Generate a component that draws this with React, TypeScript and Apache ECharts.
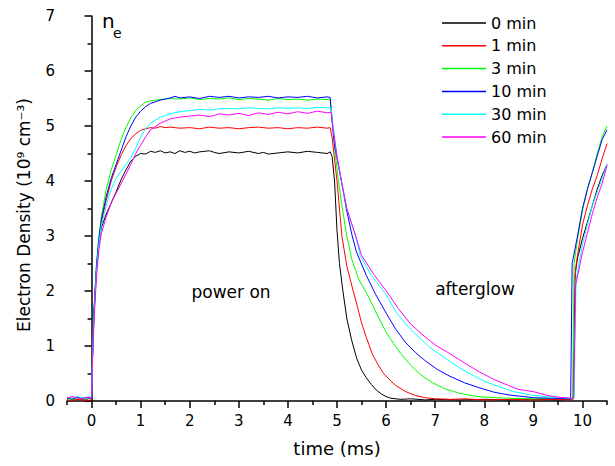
import React, { useEffect, useRef } from "react";
import * as echarts from "echarts";

const FONT = "DejaVu Sans";

const SERIES_NAMES = ["0 min", "1 min", "3 min", "10 min", "30 min", "60 min"];
const SERIES_COLORS = ["#000000", "#ff0000", "#00ff00", "#0000ff", "#00ffff", "#ff00ff"];

const X_MAJOR_TICKS = [0, 1, 2, 3, 4, 5, 6, 7, 8, 9, 10];
const X_MINOR_TICKS = [-0.5, 0.5, 1.5, 2.5, 3.5, 4.5, 5.5, 6.5, 7.5, 8.5, 9.5, 10.5];

const min0: number[][] = [
  [-0.5, 0.03], [-0.45, 0.05], [-0.4, 0.02], [-0.35, 0.04], [-0.3, 0.03], [-0.25, 0.05], [-0.2, 0.02], [-0.15, 0.04], [-0.1, 0.03], [-0.05, 0.05], [0, 0.04],
  [0.02, 0.8], [0.05, 1.6], [0.1, 2.35], [0.15, 2.85], [0.2, 3.15], [0.3, 3.4], [0.4, 3.6], [0.5, 3.8], [0.6, 4.02], [0.7, 4.2], [0.8, 4.36], [0.9, 4.45], [1.0, 4.5],
  [1.1, 4.49], [1.2, 4.54], [1.3, 4.52], [1.4, 4.55], [1.5, 4.51], [1.6, 4.53], [1.7, 4.5], [1.8, 4.55], [1.9, 4.52], [2.0, 4.54], [2.1, 4.51], [2.2, 4.53], [2.4, 4.55], [2.5, 4.52], [2.6, 4.5], [2.8, 4.53], [3.0, 4.51], [3.2, 4.54], [3.4, 4.5], [3.5, 4.52], [3.6, 4.49], [3.8, 4.51], [4.0, 4.53], [4.2, 4.51], [4.4, 4.54], [4.6, 4.52], [4.8, 4.5], [4.86, 4.53],
  [4.9, 4.45], [4.95, 4.0], [5.0, 3.1], [5.05, 2.5], [5.12, 2.0], [5.2, 1.5], [5.3, 1.1], [5.4, 0.78], [5.5, 0.56], [5.6, 0.42], [5.7, 0.3], [5.8, 0.2], [5.9, 0.13], [6.0, 0.08], [6.1, 0.05], [6.3, 0.03], [6.5, 0.04], [6.8, 0.02], [7.0, 0.03], [7.5, 0.02], [8.0, 0.03], [8.5, 0.02], [9.0, 0.03], [9.5, 0.02], [9.79, 0.03],
  [9.81, 0.05], [9.85, 2.3], [9.9, 2.6], [10.0, 2.95], [10.1, 3.25], [10.2, 3.55], [10.3, 3.85], [10.4, 4.1], [10.5, 4.3],
];

const min1: number[][] = [
  [-0.5, 0.02], [-0.4, 0.01], [-0.3, 0.03], [-0.2, 0.02], [-0.1, 0.01], [0, 0.02],
  [0.02, 0.8], [0.05, 1.6], [0.1, 2.4], [0.15, 2.9], [0.2, 3.25], [0.3, 3.65], [0.4, 4.0], [0.5, 4.25], [0.6, 4.47], [0.7, 4.64], [0.8, 4.77], [0.9, 4.86], [1.0, 4.92], [1.1, 4.95], [1.2, 4.97],
  [1.3, 4.96], [1.4, 4.99], [1.5, 4.97], [1.6, 4.98], [1.8, 4.96], [2.0, 4.97], [2.2, 4.95], [2.4, 4.98], [2.6, 4.96], [2.8, 4.97], [3.0, 4.95], [3.2, 4.97], [3.4, 4.98], [3.6, 4.96], [3.8, 4.97], [4.0, 4.95], [4.2, 4.97], [4.4, 4.96], [4.6, 4.98], [4.8, 4.96], [4.86, 4.97],
  [4.9, 4.8], [4.95, 4.4], [5.0, 4.0], [5.1, 3.0], [5.2, 2.45], [5.33, 2.0], [5.42, 1.7], [5.5, 1.42], [5.6, 1.15], [5.72, 0.85], [5.85, 0.64], [5.95, 0.5], [6.1, 0.36], [6.2, 0.28], [6.4, 0.17], [6.6, 0.1], [6.8, 0.06], [7.0, 0.04], [7.3, 0.03], [7.6, 0.04], [8.0, 0.02], [8.5, 0.03], [9.0, 0.02], [9.5, 0.03], [9.8, 0.02],
  [9.82, 0.05], [9.86, 2.4], [9.9, 2.65], [10.0, 3.2], [10.1, 3.55], [10.2, 3.85], [10.3, 4.1], [10.4, 4.4], [10.5, 4.68],
];

const min3: number[][] = [
  [-0.5, 0.05], [-0.4, 0.03], [-0.3, 0.06], [-0.2, 0.04], [-0.1, 0.05], [0, 0.04],
  [0.02, 0.9], [0.05, 1.7], [0.1, 2.5], [0.15, 3.0], [0.2, 3.35], [0.3, 3.85], [0.4, 4.2], [0.5, 4.47], [0.6, 4.75], [0.7, 4.97], [0.8, 5.15], [0.9, 5.28], [1.0, 5.37], [1.1, 5.43], [1.2, 5.46], [1.4, 5.48],
  [1.6, 5.5], [1.8, 5.49], [2.0, 5.51], [2.2, 5.48], [2.4, 5.5], [2.6, 5.49], [2.8, 5.51], [3.0, 5.48], [3.2, 5.5], [3.4, 5.49], [3.6, 5.47], [3.8, 5.5], [4.0, 5.48], [4.2, 5.49], [4.4, 5.47], [4.6, 5.49], [4.8, 5.48], [4.86, 5.49],
  [4.9, 5.1], [4.95, 4.6], [5.03, 4.0], [5.1, 3.55], [5.2, 3.0], [5.31, 2.55], [5.45, 2.2], [5.64, 1.9], [5.8, 1.6], [6.0, 1.25], [6.15, 1.05], [6.3, 0.86], [6.5, 0.65], [6.7, 0.48], [6.95, 0.33], [7.2, 0.22], [7.5, 0.14], [7.8, 0.09], [8.0, 0.07], [8.5, 0.05], [9.0, 0.04], [9.4, 0.05], [9.78, 0.04],
  [9.8, 0.05], [9.83, 2.5], [9.9, 2.95], [10.0, 3.45], [10.1, 3.85], [10.2, 4.15], [10.3, 4.5], [10.4, 4.8], [10.5, 5.0],
];

const min10: number[][] = [
  [-0.5, 0.06], [-0.4, 0.04], [-0.3, 0.07], [-0.2, 0.05], [-0.1, 0.06], [0, 0.05],
  [0.02, 0.85], [0.05, 1.65], [0.1, 2.45], [0.15, 2.95], [0.2, 3.3], [0.3, 3.72], [0.4, 4.05], [0.5, 4.3], [0.6, 4.55], [0.7, 4.8], [0.8, 5.0], [0.9, 5.16], [1.0, 5.27], [1.1, 5.35], [1.2, 5.41], [1.4, 5.47],
  [1.6, 5.51], [1.7, 5.54], [1.8, 5.51], [2.0, 5.53], [2.2, 5.5], [2.4, 5.54], [2.6, 5.52], [2.8, 5.54], [3.0, 5.51], [3.2, 5.53], [3.4, 5.52], [3.6, 5.54], [3.8, 5.51], [4.0, 5.53], [4.2, 5.52], [4.4, 5.54], [4.6, 5.51], [4.8, 5.53], [4.86, 5.52],
  [4.9, 5.1], [4.95, 4.65], [5.09, 4.0], [5.2, 3.45], [5.31, 3.0], [5.4, 2.7], [5.6, 2.28], [5.78, 1.95], [6.0, 1.6], [6.2, 1.3], [6.4, 1.06], [6.6, 0.88], [6.8, 0.73], [7.05, 0.57], [7.3, 0.45], [7.6, 0.33], [7.9, 0.24], [8.2, 0.16], [8.5, 0.11], [8.8, 0.08], [9.0, 0.06], [9.4, 0.05], [9.74, 0.04],
  [9.76, 0.05], [9.79, 2.5], [9.9, 3.0], [10.0, 3.5], [10.1, 3.85], [10.2, 4.15], [10.3, 4.45], [10.4, 4.75], [10.5, 4.93],
];

const min30: number[][] = [
  [-0.5, 0.07], [-0.4, 0.05], [-0.3, 0.08], [-0.2, 0.06], [-0.1, 0.05], [-0.05, 0.1], [0, 0.06],
  [0.02, 0.8], [0.05, 1.55], [0.1, 2.35], [0.15, 2.85], [0.2, 3.2], [0.3, 3.55], [0.4, 3.85], [0.5, 4.05], [0.6, 4.18], [0.7, 4.3], [0.8, 4.42], [0.9, 4.6], [1.0, 4.8], [1.1, 4.95], [1.2, 5.05], [1.4, 5.16], [1.6, 5.22], [1.8, 5.26],
  [2.0, 5.28], [2.2, 5.3], [2.4, 5.29], [2.6, 5.31], [2.8, 5.32], [3.0, 5.31], [3.2, 5.33], [3.4, 5.32], [3.6, 5.31], [3.8, 5.33], [4.0, 5.32], [4.2, 5.33], [4.4, 5.32], [4.6, 5.34], [4.8, 5.33], [4.88, 5.33],
  [4.92, 5.0], [5.0, 4.45], [5.09, 4.0], [5.2, 3.5], [5.38, 3.0], [5.47, 2.65], [5.7, 2.28], [5.99, 1.95], [6.2, 1.62], [6.4, 1.4], [6.65, 1.17], [6.9, 0.97], [7.2, 0.78], [7.5, 0.6], [7.8, 0.45], [8.0, 0.36], [8.3, 0.26], [8.6, 0.17], [9.0, 0.1], [9.4, 0.07], [9.8, 0.05],
  [9.83, 0.05], [9.87, 2.2], [10.0, 2.85], [10.1, 3.2], [10.2, 3.55], [10.3, 3.8], [10.4, 4.05], [10.5, 4.3],
];

const min60: number[][] = [
  [-0.5, 0.05], [-0.4, 0.08], [-0.3, 0.06], [-0.2, 0.04], [-0.1, 0.07], [0, 0.05],
  [0.02, 0.7], [0.05, 1.45], [0.1, 2.25], [0.15, 2.75], [0.2, 3.05], [0.3, 3.35], [0.4, 3.6], [0.5, 3.78], [0.6, 3.95], [0.7, 4.12], [0.8, 4.3], [0.9, 4.5], [1.0, 4.65], [1.1, 4.8], [1.2, 4.93], [1.4, 5.05], [1.6, 5.13], [1.8, 5.16],
  [2.0, 5.18], [2.2, 5.2], [2.4, 5.17], [2.6, 5.22], [2.8, 5.2], [3.0, 5.23], [3.2, 5.19], [3.4, 5.24], [3.6, 5.21], [3.8, 5.25], [4.0, 5.22], [4.2, 5.26], [4.4, 5.23], [4.6, 5.27], [4.8, 5.24], [4.88, 5.25],
  [4.92, 4.95], [5.0, 4.45], [5.09, 4.0], [5.2, 3.5], [5.38, 3.0], [5.5, 2.65], [5.75, 2.3], [6.02, 1.98], [6.25, 1.68], [6.5, 1.4], [6.75, 1.2], [7.0, 1.02], [7.3, 0.86], [7.6, 0.69], [7.9, 0.53], [8.2, 0.39], [8.5, 0.28], [8.7, 0.21], [9.0, 0.17], [9.3, 0.1], [9.5, 0.07], [9.8, 0.05],
  [9.82, 0.05], [9.86, 2.1], [10.0, 2.7], [10.1, 3.05], [10.2, 3.4], [10.3, 3.7], [10.4, 3.95], [10.5, 4.28],
];

const SERIES_DATA = [min0, min1, min3, min10, min30, min60];

export default function App() {
  const ref = useRef<HTMLDivElement>(null);
  useEffect(() => {
    document.body.style.margin = "0";
    if (!ref.current) return;
    const chart = echarts.init(ref.current, null, { renderer: "svg" });
    const axisLine = { show: true, lineStyle: { color: "#000", width: 1.5 } };
    chart.setOption({
      animation: false,
      backgroundColor: "#fff",
      grid: { left: 67, right: 8, top: 16, bottom: 65 },
      legend: {
        orient: "vertical",
        left: 442,
        top: 15,
        padding: 0,
        itemWidth: 44,
        itemHeight: 1.5,
        itemGap: 6.8,
        icon: "rect",
        data: SERIES_NAMES,
        textStyle: { fontFamily: FONT, fontSize: 16, color: "#000" },
      },
      xAxis: [
        {
          type: "value",
          min: -0.5,
          max: 10.5,
          axisLine,
          splitLine: { show: false },
          axisTick: { show: true, customValues: X_MAJOR_TICKS, length: 7, lineStyle: { color: "#000", width: 1.5 } },
          axisLabel: { customValues: X_MAJOR_TICKS, fontFamily: FONT, fontSize: 15, color: "#000", margin: 12 },
          name: "time (ms)",
          nameLocation: "middle",
          nameGap: 38,
          nameTextStyle: { fontFamily: FONT, fontSize: 18, color: "#000" },
        },
        {
          type: "value",
          min: -0.5,
          max: 10.5,
          position: "bottom",
          axisLine: { show: false },
          splitLine: { show: false },
          axisTick: { show: true, customValues: X_MINOR_TICKS, length: 4, lineStyle: { color: "#000", width: 1.5 } },
          axisLabel: { show: false },
        },
      ],
      yAxis: {
        type: "value",
        min: 0,
        max: 7,
        interval: 1,
        axisLine,
        splitLine: { show: false },
        axisTick: { show: true, length: 7, lineStyle: { color: "#000", width: 1.5 } },
        minorTick: { show: true, splitNumber: 2, length: 4, lineStyle: { color: "#000", width: 1.5 } },
        minorSplitLine: { show: false },
        axisLabel: { fontFamily: FONT, fontSize: 15, color: "#000", margin: 12 },
      },
      graphic: [
        {
          type: "text",
          x: 24,
          y: 215,
          rotation: Math.PI / 2,
          style: {
            text: "Electron Density (10⁹ cm⁻³)",
            font: `17px "${FONT}"`,
            fill: "#000",
            align: "center",
            verticalAlign: "middle",
          },
        },
        { type: "text", x: 102, y: 21, style: { text: "n", font: `20px "${FONT}"`, fill: "#000", align: "left", verticalAlign: "middle" } },
        { type: "text", x: 113, y: 33, style: { text: "e", font: `14px "${FONT}"`, fill: "#000", align: "left", verticalAlign: "middle" } },
        { type: "text", x: 231, y: 292, style: { text: "power on", font: `17px "${FONT}"`, fill: "#000", align: "center", verticalAlign: "middle" } },
        { type: "text", x: 475, y: 289, style: { text: "afterglow", font: `17px "${FONT}"`, fill: "#000", align: "center", verticalAlign: "middle" } },
      ],
      series: SERIES_DATA.map((d, i) => ({
        name: SERIES_NAMES[i],
        type: "line",
        xAxisIndex: 0,
        data: d,
        symbol: "none",
        showSymbol: false,
        color: SERIES_COLORS[i],
        lineStyle: { width: 1, color: SERIES_COLORS[i] },
        emphasis: { disabled: true },
      })),
    });
    return () => chart.dispose();
  }, []);
  return <div ref={ref} style={{ width: 615, height: 466 }} />;
}
